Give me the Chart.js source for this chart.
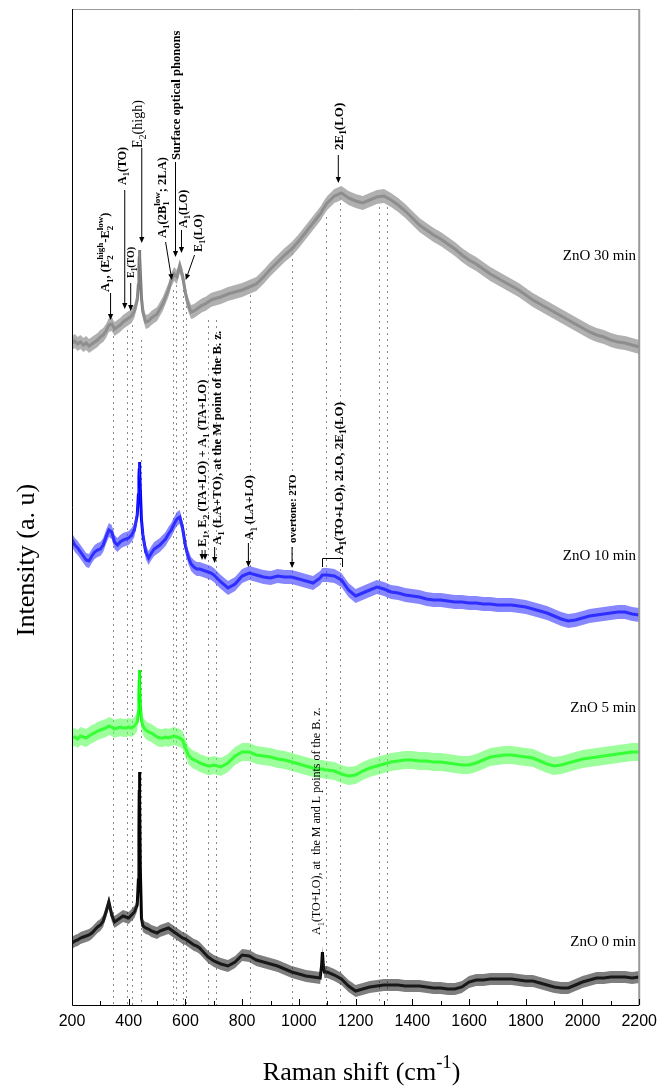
<!DOCTYPE html>
<html>
<head>
<meta charset="utf-8">
<title>Raman spectra of ZnO</title>
<script src="https://cdn.jsdelivr.net/npm/chart.js@4.4.1/dist/chart.umd.min.js"></script>
<style>
  html, body { margin: 0; padding: 0; background: #fff; }
  #raman { display: block; }
</style>
</head>
<body>
<canvas id="raman" width="664" height="1090"></canvas>
<script>
// Raman shift sampling (cm-1), denser around the sharp E2(high) line and the 1083 band
var ramanShift = [200,210,220,230,240,250,260,270,280,290,300,310,320,330,340,350,360,370,380,390,400,410,420,430,434,436,437,438,439,441,445,450,460,470,480,490,500,510,520,530,540,550,560,570,580,590,600,610,620,630,640,650,660,670,680,690,700,725,750,775,800,825,850,875,900,925,950,975,1000,1025,1050,1075,1080,1083,1086,1090,1100,1125,1150,1175,1200,1225,1250,1275,1300,1325,1350,1375,1400,1425,1450,1475,1500,1525,1550,1575,1600,1625,1650,1675,1700,1725,1750,1775,1800,1825,1850,1875,1900,1925,1950,1975,2000,2025,2050,2075,2100,2125,2150,2175,2200];

// offset intensities (a. u.), one array per milling time
var zno30 = [662,664,661,663,660,662,659,661,663,665,668,670,674,680,681,676,678,680,683,685,687,689,694,705,720,737,747,755,749,733,707,693,683,684,687,689,691,696,701,708,715,725,731,728,739,729,712,700,693,694,696,698,700,701,703,705,706,708,711,713,715,718,721,728,736,743,750,756,764,773,782,791,793,795,796,798,802,809,812,807,804,802,805,808,809,805,800,794,787,780,775,770,766,761,756,750,745,741,736,731,727,723,719,715,710,705,701,697,693,689,685,681,677,673,670,668,665,663,662,660,658];
var zno10 = [465,460,457,453,449,445,444,449,453,455,456,460,468,475,473,463,460,463,465,466,467,470,475,490,510,528,535,543,537,515,485,470,453,447,452,456,458,460,463,466,471,475,481,486,488,477,459,448,441,438,436,436,435,434,433,432,430,423,417,421,429,432,430,428,427,429,428,428,426,424,422,427,429,430,430,430,430,429,425,415,409,412,415,418,416,413,412,410,409,408,406,405,405,404,403,403,402,402,401,401,400,400,400,399,398,396,394,392,389,386,384,385,387,389,390,391,392,393,393,391,390];
var zno5 = [267,268,266,269,268,267,269,271,272,274,275,276,277,279,278,276,277,278,277,277,278,277,279,283,293,310,325,335,320,300,285,279,275,273,272,270,268,267,267,268,267,268,269,268,267,265,257,250,247,245,244,242,241,240,239,239,240,238,242,249,253,253,250,249,248,246,245,243,241,239,237,236,236,236,236,235,235,234,231,229,230,234,237,239,241,243,244,245,245,244,244,243,243,242,241,240,240,242,245,248,249,250,250,249,248,247,244,241,239,240,242,244,246,247,248,249,250,251,252,253,253];
var zno0 = [62,64,65,67,68,69,70,72,75,78,80,84,93,103,90,83,85,87,89,88,87,90,93,100,125,175,215,233,205,135,87,79,77,76,74,73,72,74,75,76,77,75,73,71,69,67,66,64,62,60,59,57,54,51,48,46,44,41,39,43,50,49,45,43,41,39,36,33,31,29,28,27,39,53,40,33,33,30,26,19,14,16,18,19,20,20,20,19,19,19,18,17,17,16,16,18,23,25,25,26,26,26,26,25,24,24,22,20,18,17,17,20,23,25,27,27,28,28,28,27,28];

// half width of the noise band on each spectrum (a. u.)
var noise30 = 7, noise10 = 7, noise5 = 9, noise0 = 6;

var seriesNames = ['ZnO 30 min', 'ZnO 10 min', 'ZnO 5 min', 'ZnO 0 min'];

// x axis tick labels
var shiftTicks = [200, 400, 600, 800, 1000, 1200, 1400, 1600, 1800, 2000, 2200];

// dotted guide lines at the assigned modes, and where each one stops at the top
var modeLines = [344, 393, 411, 443, 555, 566, 590, 601, 678, 706, 829, 977, 1096, 1146, 1283, 1311];
var modeLineTops = [675, 675, 680, 665, 715, 720, 715, 705, 685, 685, 710, 758, 788, 808, 798, 798];

function pts(vals, shift) {
  return ramanShift.map(function (x, i) { return { x: x, y: vals[i] + (shift || 0) }; });
}

function bandSets(vals, half, line, band) {
  return [
    { data: pts(vals, half), borderWidth: 0, backgroundColor: band, fill: '+1' },
    { data: pts(vals, -half), borderWidth: 0, fill: false },
    { data: pts(vals), borderColor: line, borderWidth: 3, fill: false }
  ];
}

// mode assignments: text position (cm-1, a. u.) is the start of the upright label
var labels = [
  { t: 'A_1, (E_2^{high}-E_2^{low})', x: 316, y: 713, size: 12.5, arrow: [336, 712, 336, 685] },
  { t: 'A_1(TO)', x: 376, y: 820, size: 12, arrow: [386, 815, 386, 696] },
  { t: 'E_1(TO)', x: 407, y: 727, size: 10, arrow: [407, 722, 407, 694] },
  { t: 'E_2(high)', x: 430, y: 857, size: 14, weight: 'normal', arrow: [446, 857, 446, 762] },
  { t: 'A_1(2B_1^{low}; 2LA)', x: 516, y: 767, size: 12.5, arrow: [530, 763, 552, 725] },
  { t: 'Surface optical phonons', x: 567, y: 845, size: 12.6, arrow: [565, 843, 565, 748] },
  { t: 'A_1(LO)', x: 590, y: 777, size: 12, arrow: [586, 775, 586, 752] },
  { t: 'E_1(LO)', x: 643, y: 753, size: 12, arrow: [632, 750, 601, 725] },
  { t: '2E_1(LO)', x: 1139, y: 855, size: 13, arrow: [1139, 850, 1139, 822] },
  { t: 'E_1, E_2 (TA+LO) + A_1 (TA+LO)', x: 656, y: 458, size: 12.7, twin: [664, 455, 664, 445] },
  { t: 'A_1 (LA+TO), at the M point of the B. z.', x: 709, y: 460, size: 12.8, arrow: [703, 458, 703, 442] },
  { t: 'A_1 (LA+LO)', x: 826, y: 465, size: 12, arrow: [822, 462, 822, 438] },
  { t: 'overtone: 2TO', x: 976, y: 462, size: 11, arrow: [976, 458, 976, 437] },
  { t: 'A_1(TO+LO), 2LO, 2E_1(LO)', x: 1139, y: 450, size: 13, bracket: [1082, 1153, 447, 438] },
  { t: 'A_1(TO+LO), at  the M and L points of the B. z.', x: 1061, y: 70, size: 12, weight: 'normal' }
];

var sampleTags = [
  { t: seriesNames[0], x: 2189, y: 749 },
  { t: seriesNames[1], x: 2189, y: 449 },
  { t: seriesNames[2], x: 2189, y: 297 },
  { t: seriesNames[3], x: 2189, y: 63 }
];

var SERIF = '"Liberation Serif", "Times New Roman", serif';

function richParts(s) {
  var parts = [], buf = '', i = 0;
  while (i < s.length) {
    var c = s[i];
    if (c === '_' || c === '^') {
      if (buf) { parts.push({ t: buf, k: 'n' }); buf = ''; }
      var t;
      if (s[i + 1] === '{') { var j = s.indexOf('}', i); t = s.slice(i + 2, j); i = j + 1; }
      else { t = s[i + 1]; i += 2; }
      parts.push({ t: t, k: c === '_' ? 'sub' : 'sup' });
    } else { buf += c; i++; }
  }
  if (buf) parts.push({ t: buf, k: 'n' });
  return parts;
}

// draws text with sub/superscripts from the origin along +x, returns the width
function drawRich(ctx, s, size, weight, measureOnly) {
  var parts = richParts(s);
  var big = weight + ' ' + size + 'px ' + SERIF;
  var small = weight + ' ' + (size * 0.72).toFixed(1) + 'px ' + SERIF;
  var x = 0;
  for (var i = 0; i < parts.length; i++) {
    var p = parts[i];
    if (p.k === 'n') {
      ctx.font = big;
      if (!measureOnly) ctx.fillText(p.t, x, 0);
      x += ctx.measureText(p.t).width;
      continue;
    }
    ctx.font = small;
    var w = ctx.measureText(p.t).width;
    if (!measureOnly) ctx.fillText(p.t, x, p.k === 'sub' ? size * 0.28 : -size * 0.45);
    var q = parts[i + 1];
    if (q && q.k !== 'n' && q.k !== p.k) {
      if (!measureOnly) ctx.fillText(q.t, x, q.k === 'sub' ? size * 0.28 : -size * 0.45);
      w = Math.max(w, ctx.measureText(q.t).width);
      i++;
    }
    x += w;
  }
  return x;
}

function arrow(ctx, x1, y1, x2, y2) {
  var a = Math.atan2(y2 - y1, x2 - x1), h = 6, hw = 2.6;
  ctx.beginPath();
  ctx.moveTo(x1, y1);
  ctx.lineTo(x2 - Math.cos(a) * h, y2 - Math.sin(a) * h);
  ctx.stroke();
  ctx.beginPath();
  ctx.moveTo(x2, y2);
  ctx.lineTo(x2 - Math.cos(a) * h - Math.sin(a) * hw, y2 - Math.sin(a) * h + Math.cos(a) * hw);
  ctx.lineTo(x2 - Math.cos(a) * h + Math.sin(a) * hw, y2 - Math.sin(a) * h - Math.cos(a) * hw);
  ctx.closePath();
  ctx.fill();
}

var decorations = {
  id: 'decorations',
  beforeDatasetsDraw: function (chart) {
    var ctx = chart.ctx, xs = chart.scales.x, ys = chart.scales.y, area = chart.chartArea;
    ctx.save();
    ctx.strokeStyle = '#8a8a8a';
    ctx.lineWidth = 1;
    ctx.setLineDash([2, 4]);
    modeLines.forEach(function (m, i) {
      var px = Math.round(xs.getPixelForValue(m)) + 0.5;
      ctx.beginPath();
      ctx.moveTo(px, ys.getPixelForValue(modeLineTops[i]));
      ctx.lineTo(px, area.bottom);
      ctx.stroke();
    });
    ctx.restore();
  },
  afterDraw: function (chart) {
    var ctx = chart.ctx, xs = chart.scales.x, ys = chart.scales.y, area = chart.chartArea;
    ctx.save();

    // frame
    ctx.lineWidth = 1;
    ctx.strokeStyle = '#9a9a9a';
    ctx.beginPath();
    ctx.moveTo(area.left, area.top + 0.5); ctx.lineTo(area.right, area.top + 0.5);
    ctx.stroke();
    ctx.lineWidth = 2;
    ctx.beginPath();
    ctx.moveTo(area.right, area.top); ctx.lineTo(area.right, area.bottom);
    ctx.stroke();
    ctx.strokeStyle = '#000';
    ctx.lineWidth = 1;
    ctx.beginPath();
    ctx.moveTo(area.left + 0.5, area.top); ctx.lineTo(area.left + 0.5, area.bottom + 0.5);
    ctx.lineTo(area.right, area.bottom + 0.5);
    ctx.stroke();

    // inward ticks, minor ones half way between the labels
    xs.ticks.forEach(function (tk, i) {
      var px = Math.round(xs.getPixelForValue(tk.value)) + 0.5;
      ctx.beginPath(); ctx.moveTo(px, area.bottom); ctx.lineTo(px, area.bottom - 6); ctx.stroke();
      if (i < xs.ticks.length - 1) {
        var mx = Math.round(xs.getPixelForValue((tk.value + xs.ticks[i + 1].value) / 2)) + 0.5;
        ctx.beginPath(); ctx.moveTo(mx, area.bottom); ctx.lineTo(mx, area.bottom - 4); ctx.stroke();
      }
    });

    // mode labels, upright
    ctx.fillStyle = '#000';
    ctx.strokeStyle = '#000';
    ctx.lineWidth = 1;
    ctx.textBaseline = 'alphabetic';
    labels.forEach(function (l) {
      var px = xs.getPixelForValue(l.x), py = ys.getPixelForValue(l.y);
      ctx.save();
      ctx.translate(px, py);
      ctx.rotate(-Math.PI / 2);
      ctx.translate(0, l.size * 0.33);
      drawRich(ctx, l.t, l.size, l.weight || 'bold');
      ctx.restore();
      if (l.arrow) {
        arrow(ctx, xs.getPixelForValue(l.arrow[0]), ys.getPixelForValue(l.arrow[1]),
          xs.getPixelForValue(l.arrow[2]), ys.getPixelForValue(l.arrow[3]));
      }
      if (l.twin) {
        var tx = xs.getPixelForValue(l.twin[0]);
        arrow(ctx, tx - 1.5, ys.getPixelForValue(l.twin[1]), tx - 1.5, ys.getPixelForValue(l.twin[3]));
        arrow(ctx, tx + 1.5, ys.getPixelForValue(l.twin[1]), tx + 1.5, ys.getPixelForValue(l.twin[3]));
      }
      if (l.bracket) {
        var bx1 = Math.round(xs.getPixelForValue(l.bracket[0])) + 0.5;
        var bx2 = Math.round(xs.getPixelForValue(l.bracket[1])) + 0.5;
        var by1 = Math.round(ys.getPixelForValue(l.bracket[2])) + 0.5;
        var by2 = ys.getPixelForValue(l.bracket[3]);
        ctx.beginPath();
        ctx.moveTo(bx1, by2); ctx.lineTo(bx1, by1); ctx.lineTo(bx2, by1); ctx.lineTo(bx2, by2);
        ctx.stroke();
      }
    });

    // sample names
    ctx.font = '15px ' + SERIF;
    ctx.textAlign = 'right';
    ctx.textBaseline = 'middle';
    sampleTags.forEach(function (s) {
      ctx.fillText(s.t, xs.getPixelForValue(s.x), ys.getPixelForValue(s.y));
    });

    // axis titles
    ctx.textAlign = 'left';
    ctx.textBaseline = 'alphabetic';
    var xt = 'Raman shift (cm^{-1})';
    var w = drawRich(ctx, xt, 26, 'normal', true);
    ctx.save();
    ctx.translate((area.left + area.right) / 2 + 6 - w / 2, 1080);
    drawRich(ctx, xt, 26, 'normal');
    ctx.restore();

    var yt = 'Intensity (a. u)';
    ctx.font = '26px ' + SERIF;
    var yw = ctx.measureText(yt).width;
    ctx.save();
    ctx.translate(34, 560 + yw / 2);
    ctx.rotate(-Math.PI / 2);
    ctx.fillText(yt, 0, 0);
    ctx.restore();

    ctx.restore();
  }
};

var datasets = []
  .concat(bandSets(zno30, noise30, '#7a7a7a', 'rgba(150,150,150,0.75)'))
  .concat(bandSets(zno10, noise10, '#0000ff', 'rgba(70,70,255,0.65)'))
  .concat(bandSets(zno5, noise5, '#00ff00', 'rgba(90,255,90,0.6)'))
  .concat(bandSets(zno0, noise0, '#000000', 'rgba(40,40,40,0.6)'));

new Chart(document.getElementById('raman'), {
  type: 'line',
  data: { datasets: datasets },
  options: {
    responsive: false,
    animation: false,
    layout: { padding: { left: 72, right: 23, top: 9, bottom: 0 } },
    elements: { point: { radius: 0 }, line: { tension: 0 } },
    plugins: { legend: { display: false }, tooltip: { enabled: false } },
    scales: {
      x: {
        type: 'linear',
        min: 200,
        max: 2200,
        afterBuildTicks: function (scale) {
          scale.ticks = shiftTicks.map(function (v) { return { value: v }; });
        },
        afterFit: function (scale) { scale.height = 85; },
        grid: { display: false, drawTicks: false },
        border: { display: false },
        ticks: {
          autoSkip: false,
          maxRotation: 0,
          padding: 7,
          color: '#000',
          font: { family: '"Liberation Sans", Arial, sans-serif', size: 16 },
          callback: function (v) { return String(v); }
        }
      },
      y: {
        display: false,
        min: 0,
        max: 996
      }
    }
  },
  plugins: [decorations]
});
</script>
</body>
</html>
